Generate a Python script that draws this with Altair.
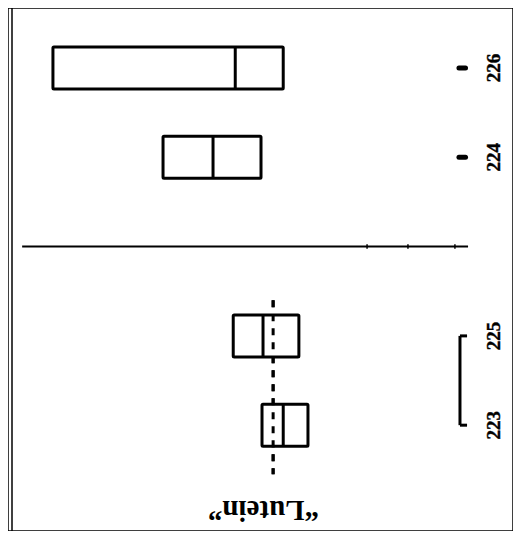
import altair as alt
import pandas as pd

# ---- data (value axis runs horizontally, 0..100) ----
samples = ["226", "224", "225", "223"]
slots = [1, 2, 4, 5]
q1 = [8.9, 30.7, 44.6, 50.3]
median = [45.0, 40.6, 50.5, 54.5]
q3 = [54.5, 50.1, 57.6, 59.4]

marked_samples = ["226", "224"]
marked_slots = [1, 2]
bracket_slots = [4, 5]

lutein_value = 52.5
lutein_extent = [3.6, 5.55]
divider_slot = 3
divider_extent = [2.8, 91.1]
divider_ticks = [71.1, 79.2, 88.5]

HALF = 0.235
LABEL_X = 96.3
MARK_X = [89.3, 90.6]
BRACKET_X = [89.5, 90.9]

boxes = pd.DataFrame({"sample": samples, "slot": slots, "q1": q1, "median": median, "q3": q3})
boxes["top"] = boxes["slot"] - HALF
boxes["bottom"] = boxes["slot"] + HALF

xs = alt.Scale(domain=[0, 100], nice=False, zero=False)
ys = alt.Scale(domain=[0.328, 6.185], nice=False, zero=False, reverse=True)

X = lambda f: alt.X(f, scale=xs, axis=None)
Y = lambda f: alt.Y(f, scale=ys, axis=None)

base = alt.Chart(boxes)

rects = base.mark_rect(fill="white", stroke="black", strokeWidth=3, cornerRadius=1).encode(
    x=X("q1:Q"), x2="q3:Q", y=Y("top:Q"), y2="bottom:Q")
meds = base.mark_rule(color="black", strokeWidth=3).encode(
    x=X("median:Q"), y=Y("top:Q"), y2="bottom:Q")
labels = base.mark_text(angle=270, font="Liberation Serif", fontWeight="bold", fontSize=19,
                        align="center", baseline="middle", color="black",
                        stroke="black", strokeWidth=0.4).encode(
    x=alt.X(datum=LABEL_X, scale=xs, axis=None), y=Y("slot:Q"), text="sample:N")

marks_df = pd.DataFrame({"sample": marked_samples, "slot": marked_slots,
                         "a": [MARK_X[0]] * 2, "b": [MARK_X[1]] * 2})
marks = alt.Chart(marks_df).mark_rule(color="black", strokeWidth=5, strokeCap="round").encode(
    x=X("a:Q"), x2="b:Q", y=Y("slot:Q"))

br_v = alt.Chart(pd.DataFrame({"s": [bracket_slots[0]], "e": [bracket_slots[1]], "x": [BRACKET_X[0]]})).mark_rule(
    color="black", strokeWidth=3).encode(x=X("x:Q"), y=Y("s:Q"), y2="e:Q")
br_h = alt.Chart(pd.DataFrame({"slot": bracket_slots, "a": [BRACKET_X[0]] * 2, "b": [BRACKET_X[1]] * 2})).mark_rule(
    color="black", strokeWidth=3).encode(x=X("a:Q"), x2="b:Q", y=Y("slot:Q"))

dotted = alt.Chart(pd.DataFrame({"v": [lutein_value], "s": [lutein_extent[0]], "e": [lutein_extent[1]]})).mark_rule(
    color="black", strokeWidth=3, strokeDash=[7, 7]).encode(x=X("v:Q"), y=Y("s:Q"), y2="e:Q")

divider = alt.Chart(pd.DataFrame({"a": [divider_extent[0]], "b": [divider_extent[1]], "s": [divider_slot]})).mark_rule(
    color="black", strokeWidth=2).encode(x=X("a:Q"), x2="b:Q", y=Y("s:Q"))
ticks = alt.Chart(pd.DataFrame({"t": divider_ticks, "s": [divider_slot - 0.025] * 3,
                                "e": [divider_slot + 0.025] * 3})).mark_rule(
    color="black", strokeWidth=1.5).encode(x=X("t:Q"), y=Y("s:Q"), y2="e:Q")

title_txt = alt.Chart(pd.DataFrame({"t": ["\u201cLutein\u201d"]})).mark_text(
    angle=180, font="Liberation Serif", fontWeight="bold", fontSize=29,
    align="center", baseline="middle", color="black").encode(
    x=alt.X(datum=50.6, scale=xs, axis=None), y=alt.Y(datum=5.95, scale=ys, axis=None), text="t:N")

inner = alt.Chart(pd.DataFrame({"k": [0]})).mark_rule(color="black", strokeWidth=1.5).encode(
    x=alt.value(4), y=alt.value(0), y2=alt.value(523))

chart = alt.layer(divider, ticks, dotted, rects, meds, dotted, labels, marks, br_v, br_h, title_txt, inner).properties(
    width=505, height=523, padding=0, autosize=alt.AutoSizeParams(type="none"), background="white"
).configure_view(stroke="black", strokeWidth=1.5)

chart.save("out.html", embed_options={"renderer": "svg", "actions": False})
